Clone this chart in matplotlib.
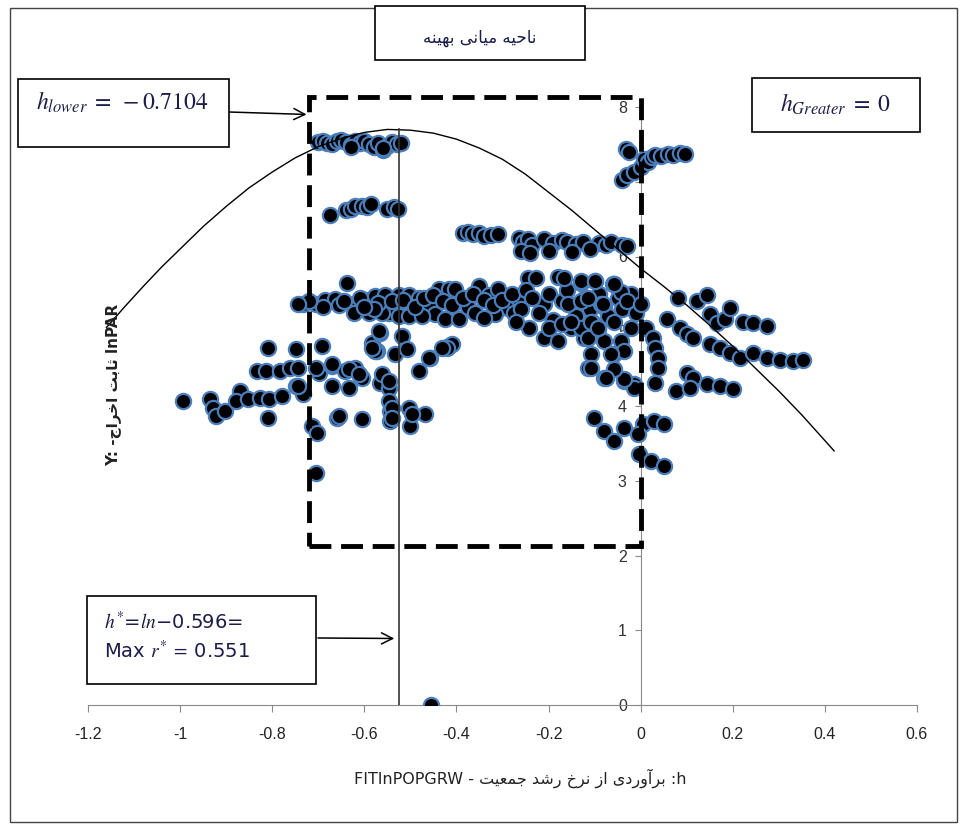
import matplotlib
matplotlib.use("Agg")
import matplotlib.pyplot as plt
from matplotlib.patches import Rectangle

# --- scatter clusters (x = FITlnPOPGRW, y = lnPAR) ---
top_x = [-0.70, -0.69, -0.68, -0.67, -0.66, -0.65, -0.64, -0.63, -0.62, -0.61, -0.60,
         -0.59, -0.58, -0.57, -0.56, -0.55, -0.54, -0.53, -0.52, -0.63, -0.56]
top_y = [7.53, 7.55, 7.52, 7.50, 7.54, 7.56, 7.53, 7.49, 7.55, 7.52, 7.54,
         7.50, 7.47, 7.52, 7.43, 7.48, 7.53, 7.50, 7.52, 7.46, 7.45]

b66_x = [-0.675, -0.64, -0.63, -0.62, -0.605, -0.595, -0.585, -0.55, -0.535, -0.527]
b66_y = [6.55, 6.62, 6.64, 6.67, 6.68, 6.66, 6.70, 6.64, 6.66, 6.63]

b63_x = [-0.385, -0.375, -0.365, -0.35, -0.34, -0.325, -0.31, -0.265, -0.255, -0.245,
         -0.235, -0.21, -0.19, -0.17, -0.16, -0.14, -0.125, -0.09, -0.075, -0.065,
         -0.04, -0.03, -0.26, -0.24, -0.20, -0.15, -0.11]
b63_y = [6.32, 6.33, 6.30, 6.31, 6.28, 6.29, 6.30, 6.25, 6.20, 6.24,
         6.16, 6.24, 6.18, 6.22, 6.19, 6.17, 6.20, 6.18, 6.16, 6.19,
         6.15, 6.14, 6.08, 6.05, 6.08, 6.06, 6.10]

tr_x = [-0.032, -0.025, -0.04, -0.029, -0.015, 0.0, 0.007, 0.015, 0.025, 0.032,
        0.045, 0.06, 0.071, 0.085, 0.097]
tr_y = [7.44, 7.40, 7.03, 7.09, 7.13, 7.20, 7.31, 7.27, 7.33, 7.36,
        7.34, 7.37, 7.36, 7.38, 7.37]

main_x = [-0.734, -0.706, -0.685, -0.663, -0.637, -0.622, -0.598, -0.577, -0.555, -0.546,
          -0.525, -0.503, -0.482, -0.46, -0.438, -0.417, -0.404, -0.447, -0.425, -0.395,
          -0.374, -0.352, -0.33, -0.309, -0.287, -0.266, -0.244, -0.227, -0.21, -0.179,
          -0.158, -0.13, -0.10, -0.08, -0.058, -0.317, -0.274, -0.242, -0.21, -0.179,
          -0.151, -0.123, -0.093, -0.622, -0.59, -0.562, -0.525, -0.503, -0.475,
          -0.61, -0.57, -0.54, -0.515, -0.49, -0.47, -0.45, -0.43, -0.41, -0.385,
          -0.365, -0.34, -0.32, -0.30, -0.28, -0.26, -0.25, -0.235, -0.22, -0.20,
          -0.19, -0.17, -0.16, -0.14, -0.12, -0.11, -0.09, -0.07, -0.05, -0.04,
          -0.02, -0.01, -0.655, -0.645, -0.58, -0.60, -0.69, -0.72, -0.743, -0.36,
          -0.34, -0.27, -0.20, -0.17, -0.13, -0.105,
          -0.166, -0.13, -0.10, -0.06, -0.043, -0.158, -0.13, -0.086, -0.029, -0.151,
          -0.108, -0.058, -0.022, -0.115, -0.08, -0.043, -0.108, -0.058, -0.115, -0.08,
          -0.037, -0.015]
main_y = [5.36, 5.37, 5.42, 5.43, 5.64, 5.37, 5.42, 5.47, 5.49, 5.24,
          5.49, 5.49, 5.44, 5.37, 5.57, 5.57, 5.56, 5.23, 5.17, 5.16,
          5.33, 5.60, 5.49, 5.57, 5.31, 5.44, 5.71, 5.71, 5.37, 5.73,
          5.36, 5.64, 5.67, 5.33, 5.63, 5.23, 5.24, 5.04, 4.91, 4.87,
          5.04, 4.91, 5.03, 5.24, 5.24, 5.24, 5.20, 5.20, 5.20,
          5.45, 5.38, 5.40, 5.42, 5.33, 5.45, 5.48, 5.40, 5.35, 5.45,
          5.50, 5.42, 5.35, 5.42, 5.50, 5.30, 5.55, 5.45, 5.25, 5.50,
          5.15, 5.40, 5.55, 5.20, 5.45, 5.30, 5.50, 5.20, 5.45, 5.30,
          5.50, 5.25, 5.35, 5.40, 5.30, 5.33, 5.33, 5.40, 5.36, 5.25,
          5.18, 5.12, 5.05, 5.10, 5.05, 5.12,
          5.71, 5.67, 5.67, 5.63, 5.53, 5.36, 5.40, 5.36, 5.40, 5.13,
          5.13, 5.13, 5.04, 4.91, 4.87, 4.87, 4.69, 4.69, 4.51, 4.37,
          4.33, 4.29]

low_x = [-0.994, -0.935, -0.929, -0.922, -0.903, -0.87, -0.878, -0.853, -0.827, -0.81,
         -0.806, -0.778, -0.81, -0.749, -0.691, -0.832, -0.814, -0.784, -0.762, -0.745,
         -0.749, -0.734, -0.698, -0.67, -0.641, -0.633, -0.62, -0.605, -0.713, -0.702,
         -0.659, -0.605, -0.583, -0.566, -0.572, -0.566, -0.546, -0.546, -0.544, -0.544,
         -0.533, -0.518, -0.508, -0.503, -0.501, -0.469, -0.482, -0.458, -0.417, -0.41,
         -0.706, -0.568, -0.577, -0.562, -0.546, -0.54, -0.54, -0.497, -0.46, -0.421,
         -0.706, -0.67, -0.633, -0.611, -0.583, -0.745, -0.67, -0.654, -0.432]
low_y = [4.07, 4.09, 3.97, 3.87, 3.93, 4.20, 4.07, 4.09, 4.11, 3.84,
         4.09, 4.13, 4.77, 4.76, 4.80, 4.47, 4.47, 4.47, 4.51, 4.51,
         4.27, 4.16, 4.44, 4.53, 4.47, 4.24, 4.51, 4.37, 3.73, 3.64,
         3.84, 3.83, 4.84, 4.97, 4.73, 4.31, 4.24, 4.07, 3.93, 3.80,
         4.69, 4.93, 4.76, 3.97, 3.73, 3.89, 4.47, 4.64, 4.80, 4.83,
         3.11, 5.00, 4.73, 4.43, 4.33, 3.97, 3.84, 3.89, 4.64, 4.77,
         4.51, 4.56, 4.49, 4.43, 4.77, 4.27, 4.27, 3.87, 4.77]

right_x = [-0.115, -0.082, -0.058, 0.0, 0.011, 0.026, 0.032, 0.037, 0.037, 0.032,
           -0.015, -0.037, -0.058, -0.076, -0.108, -0.093, -0.037, -0.065, -0.101, -0.08,
           -0.058, -0.037, 0.006, 0.028, 0.05, -0.006, -0.004, 0.022, 0.05,
           0.058, 0.08, 0.086, 0.10, 0.114, 0.123, 0.145, 0.151, 0.166, 0.184,
           0.194, 0.222, 0.244, 0.274, 0.151, 0.173, 0.194, 0.216, 0.244, 0.274,
           0.302, 0.33, 0.352, 0.10, 0.114, 0.076, 0.108, 0.145, 0.173, 0.201]
right_y = [5.44, 5.36, 5.63, 5.36, 5.04, 4.91, 4.77, 4.64, 4.51, 4.31,
           4.24, 4.36, 4.49, 4.37, 4.51, 5.04, 4.73, 4.69, 3.84, 3.67,
           3.53, 3.71, 3.76, 3.80, 3.76, 3.63, 3.36, 3.27, 3.20,
           5.17, 5.44, 5.04, 4.96, 4.91, 5.40, 5.49, 5.23, 5.11, 5.17,
           5.31, 5.13, 5.11, 5.07, 4.83, 4.77, 4.71, 4.64, 4.71, 4.64,
           4.62, 4.60, 4.62, 4.44, 4.37, 4.20, 4.24, 4.29, 4.27, 4.23]

zero_x = [-0.455]
zero_y = [0.0]

# fitted curve
curve_x = [-1.16, -1.12, -1.08, -1.04, -1.00, -0.95, -0.90, -0.85, -0.80, -0.75, -0.70,
           -0.65, -0.60, -0.55, -0.50, -0.45, -0.40, -0.35, -0.30, -0.25, -0.20,
           -0.15, -0.10, -0.05, 0.00, 0.05, 0.10, 0.15, 0.20, 0.25, 0.30, 0.35, 0.42]
curve_y = [5.05, 5.33, 5.60, 5.86, 6.10, 6.40, 6.67, 6.92, 7.13, 7.32, 7.47,
           7.58, 7.66, 7.70, 7.69, 7.65, 7.57, 7.45, 7.30, 7.10, 6.86,
           6.62, 6.36, 6.10, 5.84, 5.60, 5.35, 5.08, 4.80, 4.50, 4.20, 3.88, 3.40]

h_lower = -0.7104
h_greater = 0.0
h_star = -0.525
zone_bottom, zone_top = 2.13, 8.13
curve_peak = 7.70

xticks = [-1.2, -1.0, -0.8, -0.6, -0.4, -0.2, 0.0, 0.2, 0.4, 0.6]
xtick_labels = ["-1.2", "-1", "-0.8", "-0.6", "-0.4", "-0.2", "0", "0.2", "0.4", "0.6"]
yticks = [0, 1, 2, 3, 4, 5, 6, 7, 8]

# matplotlib has no Arabic shaping, so pick presentation forms by hand
FORMS = {
    'ا': ('\uFE8D', '\uFE8E', None, None),
    'آ': ('\uFE81', '\uFE82', None, None),
    'ب': ('\uFE8F', '\uFE90', '\uFE91', '\uFE92'),
    'ت': ('\uFE95', '\uFE96', '\uFE97', '\uFE98'),
    'ث': ('\uFE99', '\uFE9A', '\uFE9B', '\uFE9C'),
    'ج': ('\uFE9D', '\uFE9E', '\uFE9F', '\uFEA0'),
    'ح': ('\uFEA1', '\uFEA2', '\uFEA3', '\uFEA4'),
    'خ': ('\uFEA5', '\uFEA6', '\uFEA7', '\uFEA8'),
    'د': ('\uFEA9', '\uFEAA', None, None),
    'ر': ('\uFEAD', '\uFEAE', None, None),
    'ز': ('\uFEAF', '\uFEB0', None, None),
    'ش': ('\uFEB5', '\uFEB6', '\uFEB7', '\uFEB8'),
    'ع': ('\uFEC9', '\uFECA', '\uFECB', '\uFECC'),
    'م': ('\uFEE1', '\uFEE2', '\uFEE3', '\uFEE4'),
    'ن': ('\uFEE5', '\uFEE6', '\uFEE7', '\uFEE8'),
    'ه': ('\uFEE9', '\uFEEA', '\uFEEB', '\uFEEC'),
    'و': ('\uFEED', '\uFEEE', None, None),
    'ی': ('\uFEEF', '\uFEF0', '\uFEF3', '\uFEF4'),
}


def fa(text):
    out = []
    for i, c in enumerate(text):
        if c not in FORMS:
            out.append(c)
            continue
        f = FORMS[c]
        prev = text[i - 1] if i > 0 else None
        nxt = text[i + 1] if i + 1 < len(text) else None
        jp = prev in FORMS and FORMS[prev][2] is not None
        jn = f[2] is not None and nxt in FORMS
        if jp and jn:
            out.append(f[3])
        elif jp:
            out.append(f[1])
        elif jn:
            out.append(f[2])
        else:
            out.append(f[0])
    return ''.join(reversed(out))


plt.rcParams['mathtext.fontset'] = 'stix'
W, H = 966, 832


def fp(x, y):
    # figure pixel (from top-left) -> figure fraction
    return x / W, 1 - y / H


fig = plt.figure(figsize=(W / 100, H / 100), dpi=100)
ax = fig.add_axes([88 / W, 127 / H, 829 / W, 598 / H])

axis_col = '#898989'
all_x = top_x + b66_x + b63_x + tr_x + main_x + low_x + right_x + zero_x
all_y = top_y + b66_y + b63_y + tr_y + main_y + low_y + right_y + zero_y
ax.scatter(all_x, all_y, s=120, c='black', edgecolors='#4a7ebb', linewidths=1.6, zorder=3)

ax.plot(curve_x, curve_y, color='black', lw=1.0, zorder=5)
ax.plot([h_star, h_star], [0, curve_peak], color='#333333', lw=1.2, zorder=5)
ax.add_patch(Rectangle((h_lower - 0.009, zone_bottom), h_greater - h_lower + 0.009,
                       zone_top - zone_bottom, fill=False, ec='black', lw=3.5,
                       linestyle=(0, (4.5, 2)), zorder=6, clip_on=False))

ax.set_xlim(-1.2, 0.6)
ax.set_ylim(0, 8)
ax.spines['top'].set_visible(False)
ax.spines['right'].set_visible(False)
ax.spines['left'].set_position(('data', 0))
ax.spines['left'].set_color(axis_col)
ax.spines['bottom'].set_color(axis_col)
ax.set_xticks(xticks)
ax.set_xticklabels(xtick_labels)
ax.set_yticks(yticks)
ax.set_yticklabels([str(v) for v in yticks])
ax.tick_params(axis='x', direction='out', length=5, color=axis_col, pad=11,
               labelsize=11.5, labelcolor='#222222')
ax.tick_params(axis='y', direction='out', length=4, color=axis_col, pad=6,
               labelsize=11.5, labelcolor='#333333')
for lab in ax.get_xticklabels() + ax.get_yticklabels():
    lab.set_fontfamily('Liberation Sans')

xlabel = "FITlnPOPGRW - " + fa("برآوردی از نرخ رشد جمعیت") + " :h"
fig.text(*fp(520, 778), xlabel, ha='center', va='center', fontsize=11.5,
         family='DejaVu Sans', color='#222222')
ylabel = "Y: -" + fa("ثابت اخراج") + " lnPAR"
fig.text(*fp(113, 385), ylabel, ha='center', va='center', fontsize=11,
         rotation=90, family='DejaVu Sans', weight='bold', color='#222222')

# figure border
fig.add_artist(Rectangle(fp(10, 822), 947 / W, 814 / H, transform=fig.transFigure,
                         fill=False, ec='#444444', lw=1))


def box(x0, y0, x1, y1):
    fig.add_artist(Rectangle(fp(x0, y1), (x1 - x0) / W, (y1 - y0) / H,
                             transform=fig.transFigure, fill='white', fc='white',
                             ec='black', lw=1.2, zorder=10))


txt_col = '#1c1c4a'
arrow = dict(arrowstyle='->', color='black', lw=1.1, mutation_scale=20, shrinkA=0, shrinkB=0)

box(18, 79, 229, 147)
fig.text(*fp(36, 102), r"$h_{lower}\;=\;-0.7104$", fontsize=17, va='center', ha='left',
         color=txt_col, zorder=11)
ax.annotate('', xy=(h_lower - 0.015, 7.90), xycoords='data', xytext=fp(229, 112),
            textcoords='figure fraction', arrowprops=arrow, zorder=11)

box(375, 6, 585, 60)
fig.text(*fp(480, 38), fa("ناحیه میانی بهینه"), fontsize=12, va='center', ha='center',
         family='DejaVu Sans', color=txt_col, zorder=11)
ax.annotate('', xy=(-0.346, 8.17), xycoords='data', xytext=fp(480, 60),
            textcoords='figure fraction', arrowprops=arrow, zorder=11)

box(752, 78, 920, 132)
fig.text(*fp(836, 104), r"$h_{Greater}\;=\;0$", fontsize=17, va='center', ha='center',
         color=txt_col, zorder=11)
ax.annotate('', xy=(h_greater + 0.002, 8.03), xycoords='data', xytext=fp(752, 103),
            textcoords='figure fraction', arrowprops=arrow, zorder=11)

box(87, 596, 316, 684)
fig.text(*fp(104, 622), r"$h^{*}$=$ln$" + "\u22120.596=", fontsize=14, va='center',
         ha='left', color=txt_col, zorder=11)
fig.text(*fp(104, 651), r"Max $r^{*}\;=\;$0.551", fontsize=14, va='center',
         ha='left', color=txt_col, zorder=11)
ax.annotate('', xy=(h_star - 0.01, 0.89), xycoords='data', xytext=fp(318, 638),
            textcoords='figure fraction', arrowprops=arrow, zorder=11)

fig.savefig('out.png', dpi=100)
